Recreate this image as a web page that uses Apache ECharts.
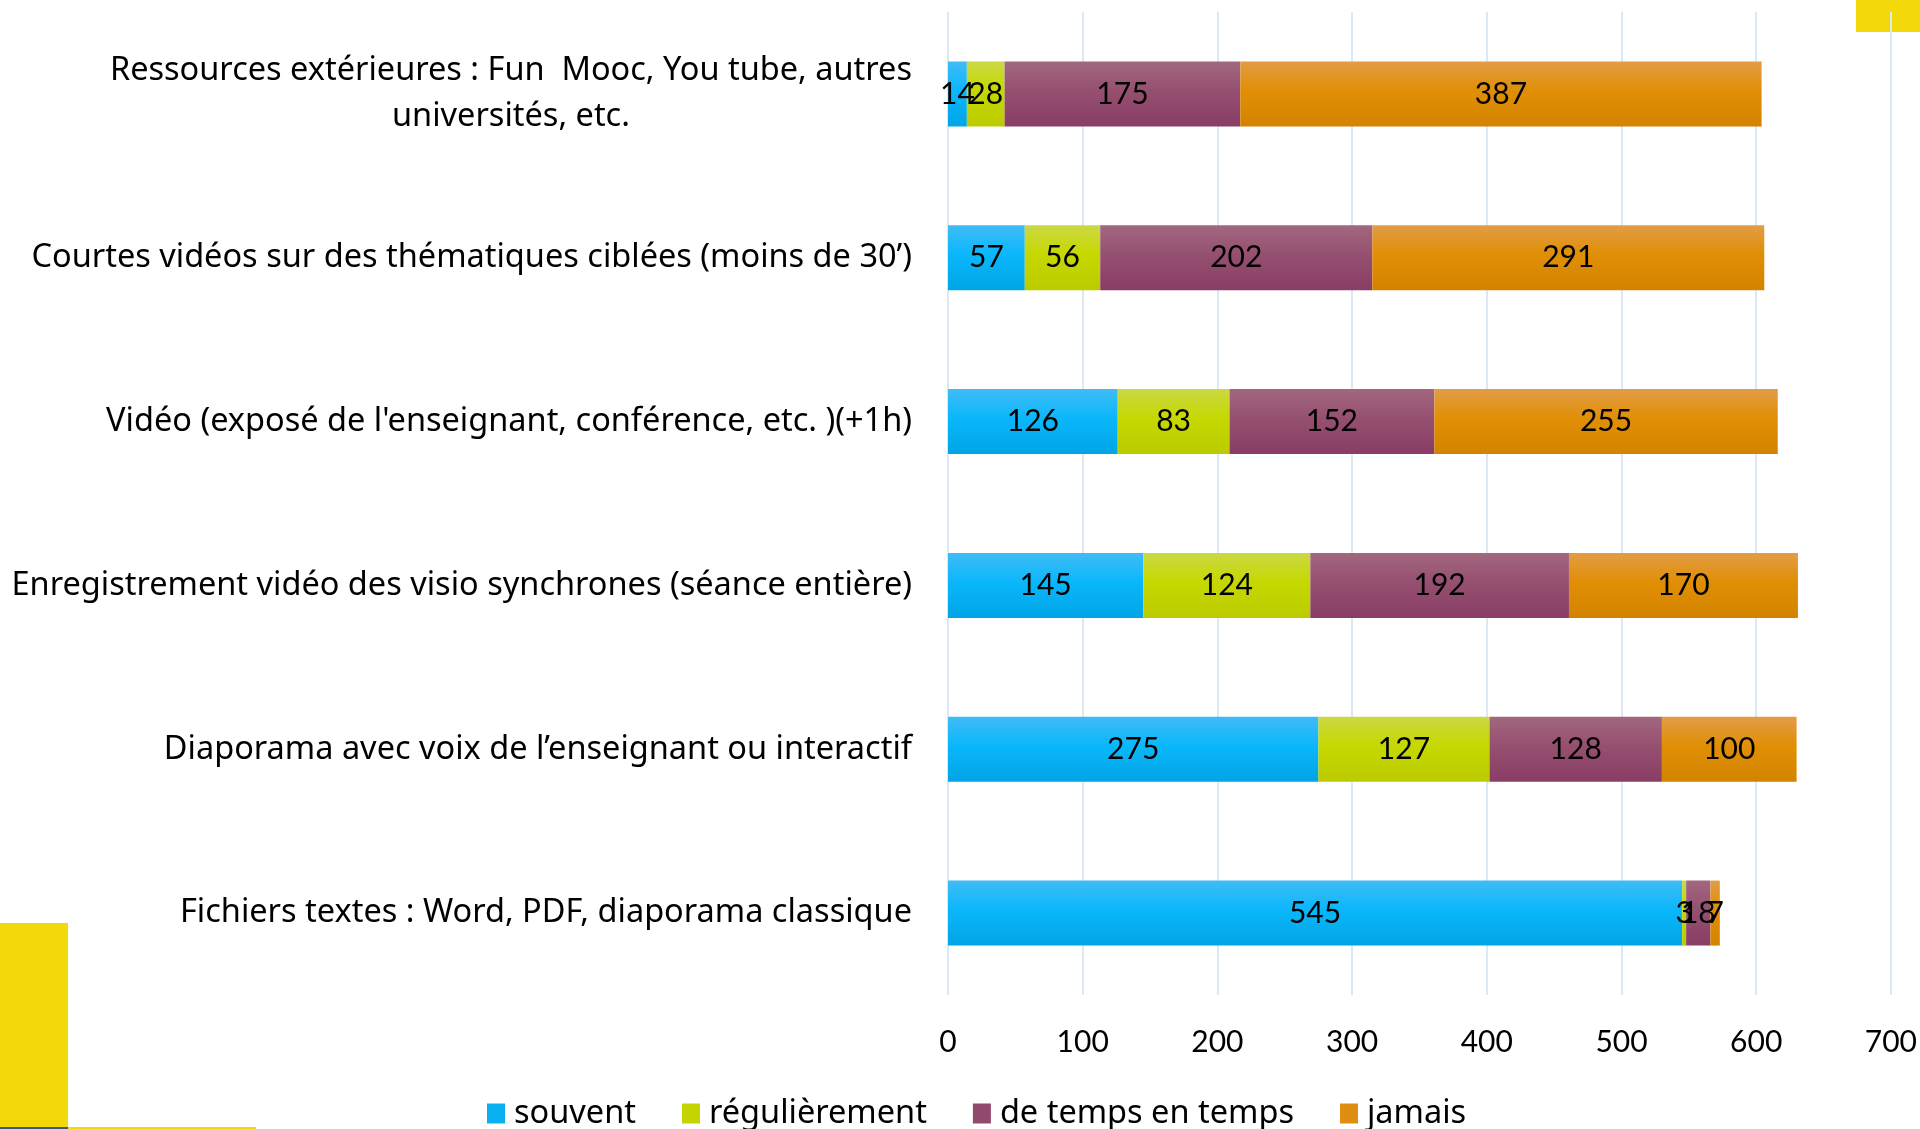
<!DOCTYPE html>
<html>
<head>
<meta charset="utf-8">
<script src="https://cdn.jsdelivr.net/npm/echarts@6/dist/echarts.min.js"></script>
<style>
html,body{margin:0;padding:0;background:#fff;}
#chart{width:1920px;height:1129px;}
</style>
</head>
<body>
<div id="chart"></div>
<script>
const categories = [
  "Ressources extérieures : Fun  Mooc, You tube, autres\nuniversités, etc.",
  "Courtes vidéos sur des thématiques ciblées (moins de 30’)",
  "Vidéo (exposé de l'enseignant, conférence, etc. )(+1h)",
  "Enregistrement vidéo des visio synchrones (séance entière)",
  "Diaporama avec voix de l’enseignant ou interactif",
  "Fichiers textes : Word, PDF, diaporama classique"
];
const seriesNames = ["souvent", "régulièrement", "de temps en temps", "jamais"];
const souvent = [14, 57, 126, 145, 275, 545];
const regulierement = [28, 56, 83, 124, 127, 3];
const deTempsEnTemps = [175, 202, 152, 192, 128, 18];
const jamais = [387, 291, 255, 170, 100, 7];
const xTicks = [0, 100, 200, 300, 400, 500, 600, 700];

const FONT = 'Lato';
const CAT_FONT = '"Noto Sans"';
const CAT_SIZE = 32.5;
function grad(c1, c2, c3) {
  return new echarts.graphic.LinearGradient(0, 0, 0, 1, [
    {offset: 0, color: c1}, {offset: 0.45, color: c2}, {offset: 1, color: c3}
  ]);
}
const colors = [
  grad('#40BCF6', '#0AB7FB', '#00A5E5'),
  grad('#CAD944', '#C6D800', '#BBCB00'),
  grad('#A2677F', '#955070', '#893D65'),
  grad('#E29C46', '#E08F05', '#D48300')
];
const legendColors = ['#0AB0F0', '#C4D400', '#93496C', '#DE8E10'];
const values = [souvent, regulierement, deTempsEnTemps, jamais];

const chart = echarts.init(document.getElementById('chart'), null, {renderer: 'canvas'});
const series = values.map((v, i) => ({
  name: seriesNames[i],
  type: 'bar',
  stack: 'total',
  data: v,
  barWidth: 65,
  itemStyle: {color: colors[i]},
  label: {
    show: true,
    position: 'inside',
    color: '#000',
    fontSize: 30,
    fontFamily: FONT,
    textBorderWidth: 0
  },
  emphasis: {disabled: true}
}));

chart.setOption({
  animation: false,
  color: legendColors,
  graphic: [
    {type: 'rect', z: -10, shape: {x: 1856, y: 0, width: 64, height: 32}, style: {fill: '#F4D90A'}},
    {type: 'rect', z: -10, shape: {x: 0, y: 923, width: 68, height: 206}, style: {fill: '#F4D90A'}},
    {type: 'rect', z: -10, shape: {x: 0, y: 1127, width: 68, height: 2}, style: {fill: '#3E5A6E'}},
    {type: 'rect', z: -10, shape: {x: 68, y: 1127, width: 188, height: 2}, style: {fill: '#F4D90A'}}
  ],
  grid: {left: 948, right: 29, top: 12, bottom: 134, containLabel: false},
  legend: {
    data: seriesNames.map((n, i) => ({name: n, itemStyle: {color: legendColors[i]}})),
    left: 482,
    top: 1092,
    icon: 'rect',
    itemWidth: 18,
    itemHeight: 20,
    itemGap: 46,
    textStyle: {fontSize: CAT_SIZE, fontFamily: CAT_FONT, color: '#000', padding: [0, 0, 0, 4]}
  },
  xAxis: {
    type: 'value',
    min: xTicks[0],
    max: xTicks[xTicks.length - 1],
    interval: 100,
    axisLine: {show: false},
    axisTick: {show: false},
    splitLine: {show: true, lineStyle: {color: '#DCE8F4', width: 2}},
    axisLabel: {fontSize: 30, fontFamily: FONT, color: '#000', margin: 32}
  },
  yAxis: {
    type: 'category',
    inverse: true,
    data: categories,
    axisLine: {show: false},
    axisTick: {show: false},
    axisLabel: {
      fontSize: CAT_SIZE,
      fontFamily: CAT_FONT,
      color: '#000',
      margin: 36,
      lineHeight: 46,
      formatter: function (val) {
        if (val.indexOf('\n') >= 0) {
          return val.split('\n').map(l => '{c|' + l + '}').join('\n');
        }
        return val;
      },
      rich: {c: {align: 'center', fontSize: CAT_SIZE, fontFamily: CAT_FONT, color: '#000', lineHeight: 46}}
    }
  },
  series: series
});
</script>
</body>
</html>
